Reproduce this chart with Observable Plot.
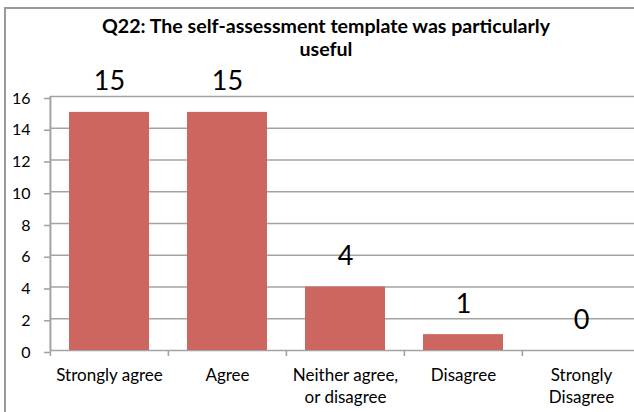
<!DOCTYPE html>
<html>
<head>
<meta charset="utf-8">
<script src="https://cdn.jsdelivr.net/npm/d3@7"></script>
<script src="https://cdn.jsdelivr.net/npm/@observablehq/plot@0.6"></script>
<style>
  html, body { margin: 0; padding: 0; background: #fff; }
  #wrap { position: relative; width: 634px; height: 412px; overflow: hidden; font-family: Lato, "Open Sans", sans-serif; }
  #border { position: absolute; left: 4px; top: 7px; width: 700px; height: 500px; border-left: 2px solid #999; border-top: 2px solid #999; }
  #title { position: absolute; left: 0; top: 14px; width: 652px; text-align: center; font-weight: bold; font-size: 19.6px; line-height: 23px; color: #000; }
  #chart { position: absolute; left: 0; top: 0; }
  #chart svg { background: transparent; }
</style>
</head>
<body>
<div id="wrap">
  <div id="border"></div>
  <div id="title">Q22: The self-assessment template was particularly<br>useful</div>
  <div id="chart"></div>
</div>
<script>
const categories = ["Strongly agree", "Agree", "Neither agree, or disagree", "Disagree", "Strongly Disagree"];
const tickLabels = ["Strongly agree", "Agree", "Neither agree,\nor disagree", "Disagree", "Strongly\nDisagree"];
const counts = [15, 15, 4, 1, 0];
const yTicks = [0, 2, 4, 6, 8, 10, 12, 14, 16];

const data = categories.map((c, i) => ({category: c, label: tickLabels[i], count: counts[i]}));

const xRange = [50, 641];
const step = (xRange[1] - xRange[0]) / categories.length;
const grid = "#a3a3a3";

const chart = Plot.plot({
  width: 634,
  height: 412,
  marginLeft: 50,
  marginRight: 0,
  marginTop: 96,
  marginBottom: 62,
  style: {fontFamily: "Lato, 'Open Sans', sans-serif", background: "transparent", color: "#000"},
  x: {domain: categories, range: xRange, paddingInner: 0.32, paddingOuter: 0.16, axis: null},
  y: {domain: [0, 16], range: [350, 96]},
  marks: [
    Plot.ruleY(yTicks, {stroke: grid, strokeWidth: 1.6}),
    Plot.ruleX([categories[0]], {x: d => d, dx: -step / 2, stroke: grid, strokeWidth: 2}),
    Plot.ruleX(categories, {x: d => d, dx: -step / 2, y1: 0, y2: 0, insetBottom: -6, stroke: grid, strokeWidth: 1.6}),
    Plot.axisY({ticks: yTicks, tickSize: 6, tickPadding: 14, fontSize: 16, stroke: grid, strokeWidth: 1.6, fill: "#000", dy: 2, label: null}),
    Plot.barY(data, {x: "category", y: "count", fill: "#cd6560"}),
    Plot.text(data, {x: "category", y: "count", text: d => String(d.count), dy: -22, lineAnchor: "bottom", fontSize: 27, fill: "#000"}),
    Plot.text(data, {x: "category", text: "label", frameAnchor: "bottom", lineAnchor: "top", dy: 15, lineHeight: 1.3, fontSize: 17, fill: "#000"})
  ]
});
document.getElementById("chart").appendChild(chart);
</script>
</body>
</html>
